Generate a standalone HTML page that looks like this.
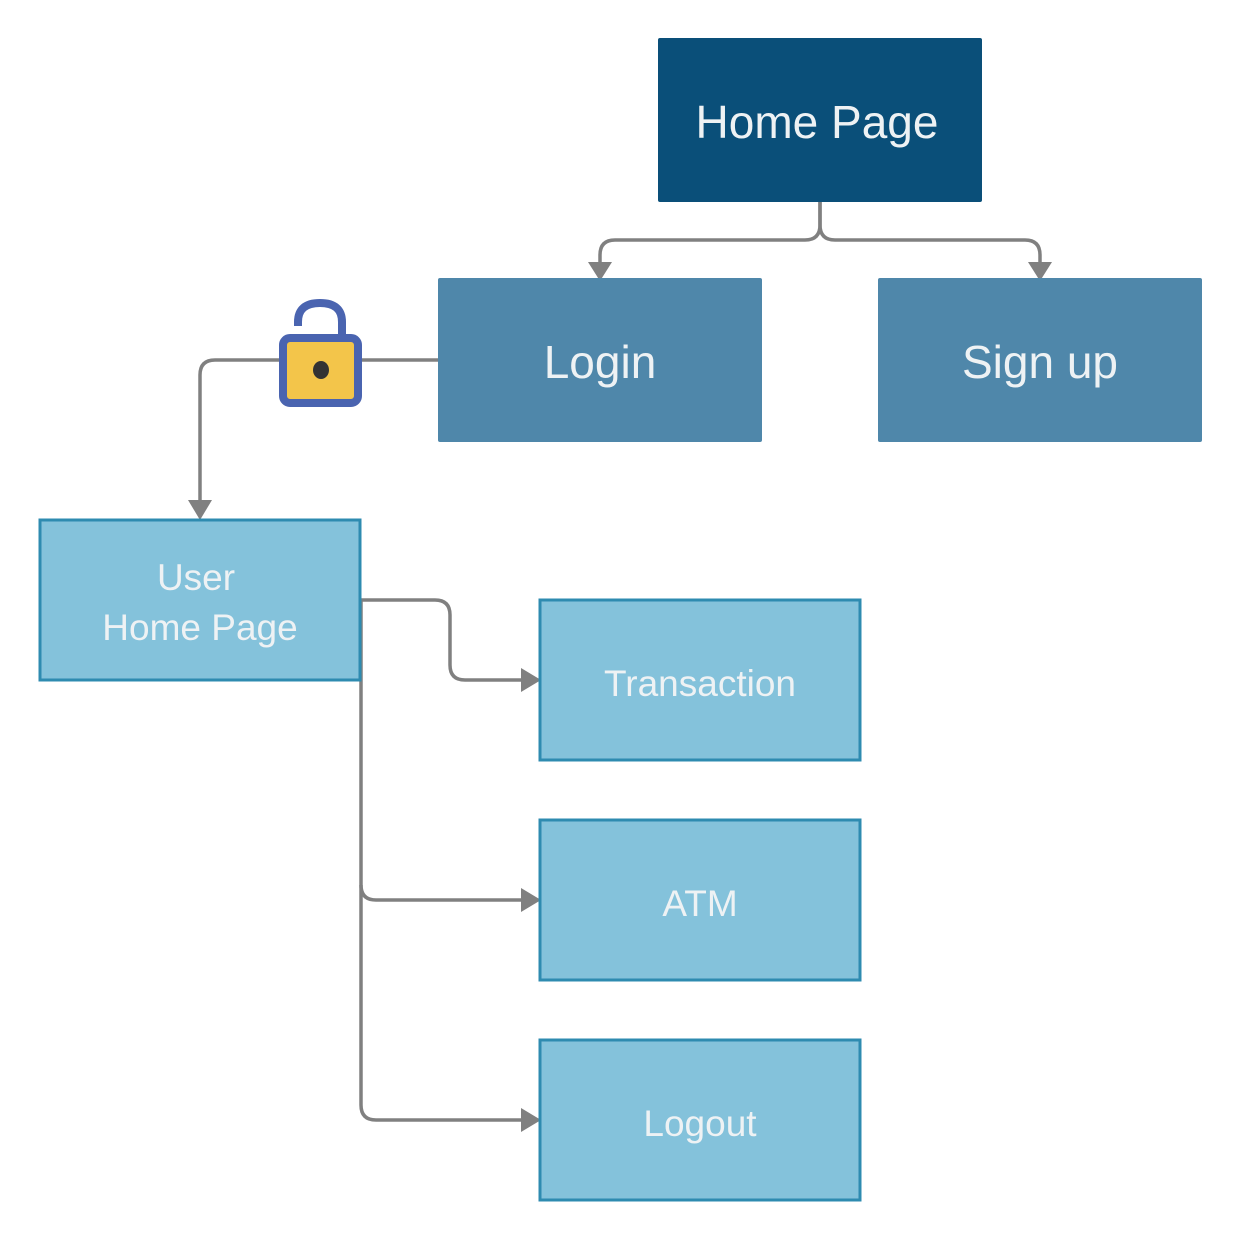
<!DOCTYPE html>
<html><head><style>body{margin:0;background:#fff}svg{display:block}</style></head><body>
<svg width="1240" height="1240" viewBox="0 0 1240 1240" xmlns="http://www.w3.org/2000/svg" font-family="Liberation Sans, sans-serif">
<rect width="1240" height="1240" fill="#fff"/>
<g fill="none" stroke="#808080" stroke-width="3.5">
<path d="M820 202 V225 Q820 240 805 240 H615 Q600 240 600 255 V266"/>
<path d="M820 202 V225 Q820 240 835 240 H1025 Q1040 240 1040 255 V266"/>
<path d="M438 360 H215 Q200 360 200 375 V506"/>
<path d="M361 600 H435 Q450 600 450 615 V665 Q450 680 465 680 H526"/>
<path d="M361 600 V1105 Q361 1120 376 1120 H526"/>
<path d="M361 885 Q361 900 376 900 H526"/>
</g>
<g fill="#808080">
<path d="M588 262 L612 262 L600 281Z"/>
<path d="M1028 262 L1052 262 L1040 281Z"/>
<path d="M188 500 L212 500 L200 520Z"/>
<path d="M521 668 L521 692 L541 680Z"/>
<path d="M521 888 L521 912 L541 900Z"/>
<path d="M521 1108 L521 1132 L541 1120Z"/>
</g>
<rect x="658" y="38" width="324" height="164" fill="#0a4f79" rx="2"/>
<rect x="438" y="278" width="324" height="164" fill="#4f87aa" rx="2"/>
<rect x="878" y="278" width="324" height="164" fill="#4f87aa" rx="2"/>
<g fill="#84c2db" stroke="#2e8bb0" stroke-width="3">
<rect x="40" y="520" width="320" height="160"/>
<rect x="540" y="600" width="320" height="160"/>
<rect x="540" y="820" width="320" height="160"/>
<rect x="540" y="1040" width="320" height="160"/>
</g>
<path d="M298 326 V322 Q298 303 320 303 Q342 303 342 322 V338" fill="none" stroke="#4a64b0" stroke-width="8"/>
<rect x="283" y="338" width="75" height="65" rx="7" fill="#f3c54a" stroke="#4a64b0" stroke-width="8"/>
<ellipse cx="321" cy="370" rx="8" ry="9" fill="#333"/>
<g fill="#eef2f4" text-anchor="middle">
<text x="817" y="138" font-size="46">Home Page</text>
<text x="600" y="378" font-size="46">Login</text>
<text x="1040" y="378" font-size="46">Sign up</text>
<text x="196" y="590" font-size="37">User</text>
<text x="200" y="640" font-size="37">Home Page</text>
<text x="700" y="696" font-size="37">Transaction</text>
<text x="700" y="916" font-size="37">ATM</text>
<text x="700" y="1136" font-size="37">Logout</text>
</g>
</svg>
</body></html>
